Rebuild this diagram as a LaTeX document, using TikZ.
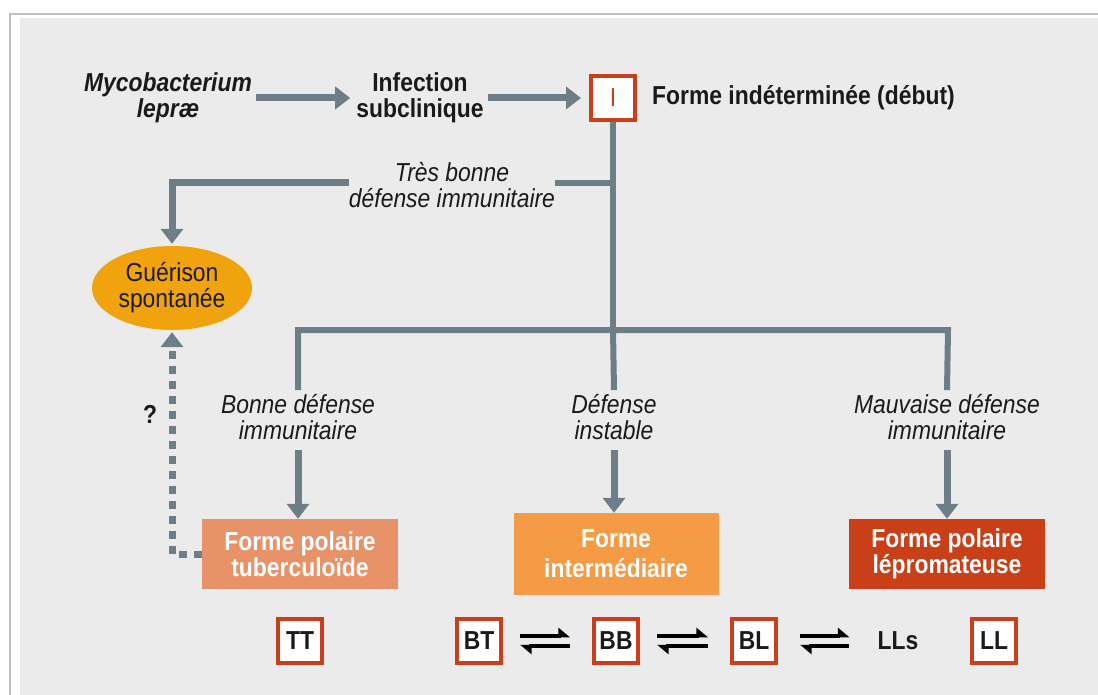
\documentclass[tikz,border=0pt]{standalone}
\usepackage{fontspec}
\setmainfont{Liberation Sans}[FakeStretch=0.88]
\usetikzlibrary{arrows.meta,shapes.geometric}
\definecolor{bgc}{HTML}{EBEBEB}
\definecolor{garr}{HTML}{6E7E86}
\definecolor{redb}{HTML}{C93F1A}
\definecolor{ttf}{HTML}{E8926A}
\definecolor{imf}{HTML}{F59A45}
\definecolor{llf}{HTML}{CB3F18}
\definecolor{elf}{HTML}{F0A30C}
\definecolor{txc}{HTML}{1A1A1A}
\tikzset{
  txt/.style={inner sep=4pt, align=center, text=txc, font=\fontsize{26}{26}\selectfont},
  btxt/.style={txt, font=\fontsize{26}{26}\selectfont\bfseries},
  itxt/.style={txt, font=\fontsize{26}{26}\selectfont\itshape},
  rbox/.style={draw=redb, line width=4pt, fill=white, minimum size=44pt, inner sep=0pt,
    text=txc, font=\fontsize{26}{26}\selectfont\bfseries},
  formbox/.style={inner sep=0pt, align=center, text=white, font=\fontsize{26}{26}\selectfont\bfseries},
  gline/.style={draw=garr, line width=6pt},
  garrow/.style={draw=garr, line width=7pt, -{Triangle[length=15pt,width=22pt]}},
  gdash/.style={draw=garr, line width=7pt, dash pattern=on 8pt off 7pt, -{Triangle[length=15pt,width=22pt]}},
  eqr/.style={draw=black, line width=4pt, -{Triangle[harpoon,length=10pt,width=16pt]}},
}
\begin{document}
\begin{tikzpicture}[x=1pt,y=-1pt]
\useasboundingbox (0,0) rectangle (1098,695);
\fill[white] (0,0) rectangle (1098,695);
\draw[black!25, line width=1.5pt] (10,695) -- (10,14) -- (1098,14);
\fill[bgc] (20,18) rectangle (1098,695);

% top row
\node[txt, font=\fontsize{26}{26}\selectfont\bfseries\itshape] (myco) at (168,98) {Mycobacterium\\lepræ};
\node[btxt] (inf) at (420,98) {Infection\\subclinique};
\node[rbox, text=redb, font=\fontsize{26}{26}\selectfont] (I) at (613,98) {I};
\node[btxt, anchor=west] (fi) at (648,98) {Forme indéterminée (début)};
\draw[garrow] (myco.east) -- ([xshift=-2pt]inf.west);
\draw[garrow, shorten >=8pt] (inf.east) -- (I.west);

% very good defense
\node[itxt] (tb) at (452,185) {Très bonne\\défense immunitaire};
\node[ellipse, fill=elf, minimum width=160pt, minimum height=84pt, inner sep=0pt,
  align=center, text=txc, font=\fontsize{26}{26}\selectfont] (gue) at (172,288) {Guérison\\spontanée};
\coordinate (j1) at (613,183);
\coordinate (bL) at (298,330);
\coordinate (bR) at (948,330);
\draw[gline] (I.south) -- (I.south |- bL);
\draw[gline] (j1) -- ([xshift=-4pt]tb.east |- j1);
\draw[garrow, shorten >=2pt] ([xshift=4pt]tb.west |- j1) -| (gue.north);

% branches
\node[itxt] (bon) at (298,417) {Bonne défense\\immunitaire};
\node[itxt] (ins) at (614,417) {Défense\\instable};
\node[itxt] (mau) at (947,417) {Mauvaise défense\\immunitaire};
\draw[gline] (bon.north) -- (bL) -- (bR) -- (mau.north);
\draw[gline] (I.south |- bL) -- (ins.north);

\node[formbox, fill=ttf, minimum width=196pt, minimum height=70pt] (tt) at (300,554) {Forme polaire\\tuberculoïde};
\node[formbox, fill=imf, minimum width=205pt, minimum height=82pt] (im) at (616,554) {Forme\\[4pt]intermédiaire};
\node[formbox, fill=llf, minimum width=196pt, minimum height=70pt] (lp) at (947,554) {Forme polaire\\lépromateuse};
\draw[garrow, shorten <=6pt] (bon.south) -- (bon.south |- tt.north);
\draw[garrow, shorten <=6pt] (ins.south) -- (ins.south |- im.north);
\draw[garrow, shorten <=6pt] (mau.south) -- (mau.south |- lp.north);

% uncertain healing
\draw[gdash] (tt.west) -| ([yshift=-2pt]gue.south);
\node[btxt] (q) at (150,414) {?};

% bottom row
\node[rbox] (TT) at (300,641) {TT};
\node[rbox] (BT) at (479,641) {BT};
\node[rbox] (BB) at (616,641) {BB};
\node[rbox] (BL) at (754,641) {BL};
\node[btxt] (LLs) at (898,641) {LLs};
\node[rbox] (LL) at (994,641) {LL};
\foreach \a/\b/\da/\db in {BT/BB/17/22, BB/BL/17/22, BL/LLs/22/24}{
  \draw[eqr] ([xshift=\da pt, yshift=5pt]\a.east) -- ([xshift=-\db pt, yshift=5pt]\b.west);
  \draw[eqr] ([xshift=-\db pt, yshift=-5pt]\b.west) -- ([xshift=\da pt, yshift=-5pt]\a.east);
}
\end{tikzpicture}
\end{document}
